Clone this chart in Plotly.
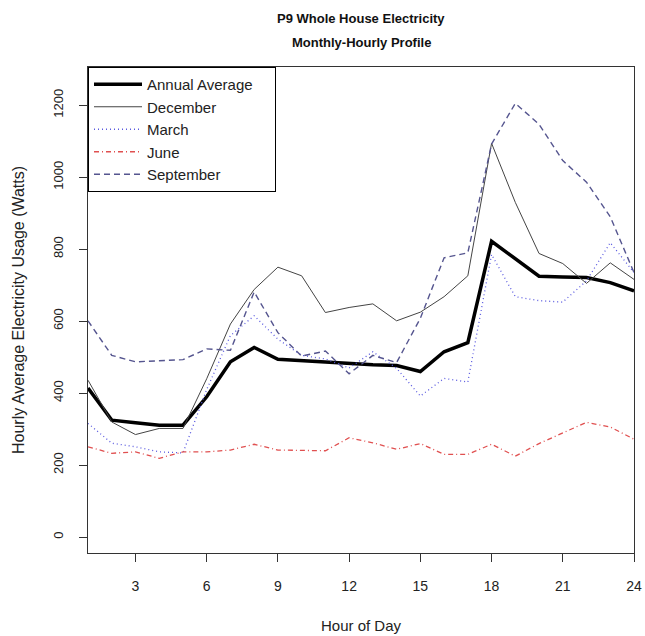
import plotly.graph_objects as go

hours = list(range(1, 25))

annual = [414, 325, 318, 311, 311, 390, 487, 527, 494, 490, 486, 482, 479, 477, 460, 515, 540,
          822, 772, 725, 723, 721, 707, 684]
december = [436, 320, 285, 302, 302, 440, 592, 688, 750, 726, 624, 638, 648, 601, 625, 668, 726,
            1094, 930, 788, 760, 705, 762, 716]
march = [316, 261, 251, 237, 234, 410, 560, 615, 550, 505, 495, 470, 515, 469, 392, 441, 431,
         785, 668, 657, 653, 712, 818, 735]
june = [251, 233, 237, 219, 237, 237, 242, 258, 242, 240, 240, 276, 262, 244, 260, 230, 230,
        258, 225, 260, 289, 319, 306, 272]
september = [601, 505, 487, 489, 493, 523, 519, 681, 568, 503, 517, 454, 505, 485, 608, 776, 790,
             1092, 1205, 1147, 1046, 986, 890, 735]

series_names = ["Annual Average", "December", "March", "June", "September"]
series_values = [annual, december, march, june, september]
series_colors = ["#000000", "#444444", "#5a5ae0", "#e05050", "#55558f"]
series_widths = [3.5, 1, 1.3, 1.3, 1.4]
series_dash = ["solid", "solid", "1px,3px", "5px,3px,1px,3px", "6px,4px"]

x_ticks = [3, 6, 9, 12, 15, 18, 21, 24]
y_ticks = [0, 200, 400, 600, 800, 1000, 1200]

FONT = "Liberation Sans, Arial, Helvetica, sans-serif"
PAD = "\u00a0" * 4  # widens the legend box to the reference's width

fig = go.Figure()
for i, (name, vals, col, w, d) in enumerate(zip(series_names, series_values, series_colors,
                                                  series_widths, series_dash)):
    fig.add_trace(go.Scatter(x=hours, y=vals, mode="lines",
                             name=name + (PAD if i == 0 else ""),
                             line=dict(color=col, width=w, dash=d)))

PLOT_H = 486
PLOT_W = 546
fig.update_layout(
    width=645, height=636,
    margin=dict(l=88, r=11, t=67, b=83),
    paper_bgcolor="white", plot_bgcolor="white",
    font=dict(family=FONT, size=14, color="#222222"),
    showlegend=True,
    legend=dict(x=0, y=1, xanchor="left", yanchor="top",
                bordercolor="#000000", borderwidth=1, bgcolor="white",
                font=dict(size=15, color="#222222"), tracegroupgap=0,
                itemwidth=48),
    xaxis=dict(range=[1, 24], tickvals=x_ticks, ticks="outside", ticklen=8,
               tickcolor="#333333", showline=True, linecolor="#333333", mirror=True,
               linewidth=1, showgrid=False, zeroline=False, ticklabelstandoff=12,
               tickfont=dict(size=14), automargin=False),
    yaxis=dict(range=[-44, 1306], tickvals=y_ticks, ticks="outside", ticklen=8,
               tickcolor="#333333", showline=True, linecolor="#333333", mirror=True,
               linewidth=1, showgrid=False, zeroline=False, tickangle=-90,
               ticklabelstandoff=11, tickfont=dict(size=13), automargin=False),
    annotations=[
        dict(text="<b>P9 Whole House Electricity</b>", xref="paper", yref="paper",
             x=0.5, y=1 + 49 / PLOT_H, xanchor="center", yanchor="middle",
             showarrow=False, font=dict(size=13, color="#111111")),
        dict(text="<b>Monthly-Hourly Profile</b>", xref="paper", yref="paper",
             x=0.5, y=1 + 25 / PLOT_H, xanchor="center", yanchor="middle",
             showarrow=False, font=dict(size=13, color="#111111")),
        dict(text="Hour of Day", xref="paper", yref="paper",
             x=0.5, y=-72 / PLOT_H, xanchor="center", yanchor="middle",
             showarrow=False, font=dict(size=15)),
        dict(text="Hourly Average Electricity Usage (Watts)", xref="paper", yref="paper",
             x=-70 / PLOT_W, y=0.5, xanchor="center", yanchor="middle", textangle=-90,
             showarrow=False, font=dict(size=16)),
    ],
)

fig.write_html(
    "out.html",
    config={"displayModeBar": False},
    post_script="document.body.style.margin='0';document.body.style.overflow='hidden';",
)
